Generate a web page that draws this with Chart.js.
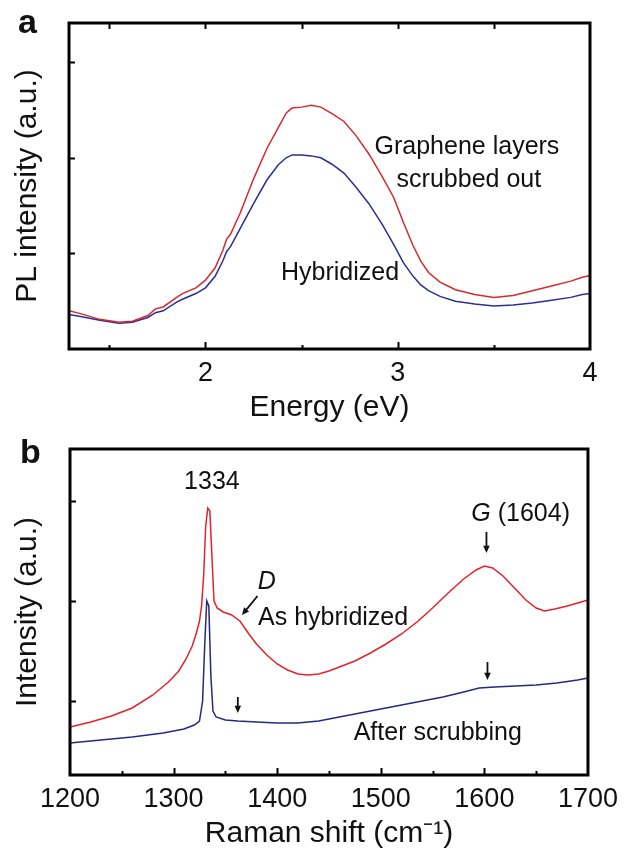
<!DOCTYPE html>
<html>
<head>
<meta charset="utf-8">
<script src="https://cdn.jsdelivr.net/npm/chart.js@4.4.1/dist/chart.umd.min.js"></script>
<style>
  body { margin: 0; background: #fff; }
  #wrap { position: relative; width: 626px; height: 851px; font-family: "Liberation Sans", Arial, sans-serif; }
  canvas { position: absolute; left: 0; }
  .tag { position: absolute; font-size: 34px; font-weight: bold; line-height: 1; color: #111; }
</style>
</head>
<body>
<div id="wrap">
  <canvas id="plA" width="626" height="423" style="top:0"></canvas>
  <canvas id="plB" width="626" height="431" style="top:420px"></canvas>
  <div class="tag" style="left:18px; top:4px">a</div>
  <div class="tag" style="left:20px; top:434px">b</div>
</div>
<script>
// panel a: PL spectra
var energy = [1.29, 1.35, 1.45, 1.55, 1.62, 1.70, 1.74, 1.78, 1.85, 1.88, 1.95, 2.00, 2.05, 2.09, 2.11, 2.13,
              2.18, 2.25, 2.32, 2.38, 2.42, 2.45, 2.50, 2.55, 2.60, 2.66, 2.72, 2.78, 2.85, 2.92, 2.98, 3.03,
              3.08, 3.12, 3.16, 3.22, 3.30, 3.40, 3.50, 3.60, 3.70, 3.80, 3.90, 3.96, 4.00];
var plScrubbed = [0.40, 0.37, 0.31, 0.28, 0.29, 0.35, 0.42, 0.44, 0.54, 0.58, 0.64, 0.72, 0.85, 1.03, 1.15, 1.20,
                  1.42, 1.78, 2.10, 2.32, 2.47, 2.52, 2.53, 2.55, 2.53, 2.46, 2.38, 2.24, 2.04, 1.80, 1.58, 1.32,
                  1.08, 0.92, 0.80, 0.70, 0.62, 0.57, 0.54, 0.56, 0.61, 0.66, 0.71, 0.75, 0.77];
var plHybrid = [0.36, 0.34, 0.30, 0.27, 0.28, 0.33, 0.38, 0.40, 0.49, 0.52, 0.58, 0.64, 0.76, 0.92, 1.02, 1.07,
                1.26, 1.52, 1.77, 1.93, 2.00, 2.03, 2.03, 2.02, 2.00, 1.93, 1.84, 1.70, 1.52, 1.30, 1.09, 0.90,
                0.76, 0.67, 0.61, 0.55, 0.50, 0.47, 0.45, 0.46, 0.48, 0.51, 0.54, 0.57, 0.58];
var energyTicks = [1.5, 2, 2.5, 3, 3.5, 4];

// panel b: Raman spectra
var shiftHyb = [1200, 1220, 1240, 1260, 1280, 1295, 1305, 1312, 1318, 1322, 1325, 1327, 1329, 1331, 1333, 1335,
                1337, 1339, 1342, 1348, 1356, 1364, 1372, 1380, 1390, 1400, 1410, 1420, 1430, 1440, 1450, 1460,
                1475, 1490, 1505, 1520, 1535, 1550, 1565, 1580, 1592, 1600, 1608, 1618, 1630, 1640, 1650, 1658,
                1668, 1680, 1690, 1700];
var ramanHyb = [0.74, 0.79, 0.85, 0.93, 1.06, 1.19, 1.30, 1.42, 1.55, 1.68, 1.80, 1.95, 2.25, 2.75, 2.93, 2.90,
                2.45, 2.00, 1.93, 1.89, 1.86, 1.80, 1.68, 1.57, 1.46, 1.37, 1.31, 1.27, 1.26, 1.27, 1.30, 1.34,
                1.40, 1.48, 1.57, 1.67, 1.79, 1.93, 2.08, 2.22, 2.31, 2.35, 2.33, 2.25, 2.12, 2.01, 1.93, 1.90,
                1.92, 1.95, 1.98, 2.01];
var shiftScrub = [1200, 1230, 1260, 1290, 1310, 1320, 1325, 1328, 1330, 1332, 1334, 1336, 1338, 1341, 1350, 1362,
                  1380, 1400, 1420, 1440, 1460, 1480, 1500, 1520, 1540, 1560, 1580, 1595, 1610, 1630, 1650, 1670,
                  1690, 1700];
var ramanScrub = [0.58, 0.61, 0.64, 0.68, 0.72, 0.76, 0.80, 1.00, 1.55, 2.00, 1.95, 1.25, 0.90, 0.84, 0.81, 0.80,
                  0.79, 0.78, 0.78, 0.80, 0.84, 0.88, 0.92, 0.96, 1.00, 1.04, 1.09, 1.13, 1.14, 1.15, 1.16, 1.18,
                  1.21, 1.23];
var shiftTicks = [1250, 1300, 1350, 1400, 1450, 1500, 1550, 1600, 1650, 1700];
var intensityTicks = [1, 2, 3];

var FONT = '"Liberation Sans", Arial, sans-serif';

function pairs(xs, ys) {
    return xs.map(function (v, i) { return { x: v, y: ys[i] }; });
}

// box frame + inward tick marks
var frameTicks = {
    id: 'frameTicks',
    afterDraw: function (chart, args, opts) {
        var ctx = chart.ctx, a = chart.chartArea;
        var xs = chart.scales.x, ys = chart.scales.y;
        ctx.save();
        ctx.strokeStyle = '#000';
        ctx.lineWidth = 2;
        ctx.beginPath();
        xs.ticks.forEach(function (t) {
            if (t.value <= xs.min || t.value >= xs.max) return;
            var px = Math.round(xs.getPixelForValue(t.value)) + 0.5;
            var len = (t.value % opts.majorEvery === 0) ? 7 : 4;
            ctx.moveTo(px, a.bottom); ctx.lineTo(px, a.bottom - len);
            if (opts.topTicks) { ctx.moveTo(px, a.top); ctx.lineTo(px, a.top + 6); }
        });
        ys.ticks.forEach(function (t) {
            var py = Math.round(ys.getPixelForValue(t.value)) + 0.5;
            ctx.moveTo(a.left, py); ctx.lineTo(a.left + 6, py);
        });
        ctx.stroke();
        ctx.lineWidth = 3;
        ctx.strokeRect(a.left, a.top, a.right - a.left, a.bottom - a.top);
        ctx.restore();
    }
};

// text labels and small arrows placed in data coordinates
var notes = {
    id: 'notes',
    afterDatasetsDraw: function (chart, args, opts) {
        var ctx = chart.ctx, xs = chart.scales.x, ys = chart.scales.y;
        ctx.save();
        ctx.fillStyle = '#111';
        ctx.strokeStyle = '#111';
        ctx.textBaseline = 'middle';
        (opts.texts || []).forEach(function (t) {
            var runs = t.runs || [{ text: t.text, italic: t.italic }];
            var px = xs.getPixelForValue(t.x), py = ys.getPixelForValue(t.y);
            var total = 0;
            runs.forEach(function (r) {
                ctx.font = (r.italic ? 'italic ' : '') + t.size + 'px ' + FONT;
                r.w = ctx.measureText(r.text).width;
                total += r.w;
            });
            var cx = px - total / 2;
            ctx.textAlign = 'left';
            runs.forEach(function (r) {
                ctx.font = (r.italic ? 'italic ' : '') + t.size + 'px ' + FONT;
                ctx.fillText(r.text, cx, py);
                cx += r.w;
            });
        });
        ctx.lineWidth = 1.8;
        (opts.arrows || []).forEach(function (ar) {
            var x1 = xs.getPixelForValue(ar.from[0]), y1 = ys.getPixelForValue(ar.from[1]);
            var x2 = xs.getPixelForValue(ar.to[0]), y2 = ys.getPixelForValue(ar.to[1]);
            var ang = Math.atan2(y2 - y1, x2 - x1), h = 8;
            ctx.beginPath();
            ctx.moveTo(x1, y1); ctx.lineTo(x2 - Math.cos(ang) * 4, y2 - Math.sin(ang) * 4);
            ctx.stroke();
            ctx.beginPath();
            ctx.moveTo(x2, y2);
            ctx.lineTo(x2 - h * Math.cos(ang - 0.42), y2 - h * Math.sin(ang - 0.42));
            ctx.lineTo(x2 - h * Math.cos(ang + 0.42), y2 - h * Math.sin(ang + 0.42));
            ctx.closePath();
            ctx.fill();
        });
        ctx.restore();
    }
};

function axisOpts(min, max, tickVals, showLabel, titleText, fitSize, isX) {
    return {
        type: 'linear',
        min: min,
        max: max,
        afterBuildTicks: function (s) { s.ticks = tickVals.map(function (v) { return { value: v }; }); },
        afterFit: function (s) { if (isX) s.height = fitSize; else s.width = fitSize; },
        grid: { display: false, drawTicks: false },
        border: { display: false },
        ticks: {
            display: showLabel,
            padding: 8,
            color: '#111',
            font: { family: FONT, size: 27 },
            maxRotation: 0,
            autoSkip: false,
            callback: function (v) { return v; }
        },
        title: {
            display: true,
            text: titleText,
            color: '#111',
            font: { family: FONT, size: 30, lineHeight: 1 },
            padding: isX ? { top: 0, bottom: 0 } : { top: 13, bottom: 0 }
        }
    };
}

var chartA = new Chart(document.getElementById('plA'), {
    type: 'line',
    data: {
        datasets: [
            { label: 'Graphene layers scrubbed out', data: pairs(energy, plScrubbed), borderColor: '#d42a2e', borderWidth: 1.5, pointRadius: 0 },
            { label: 'Hybridized', data: pairs(energy, plHybrid), borderColor: '#2b2f95', borderWidth: 1.5, pointRadius: 0 }
        ]
    },
    options: {
        responsive: false,
        animation: false,
        layout: { padding: { top: 23, right: 36, left: 0, bottom: 0 } },
        scales: {
            x: (function () {
                var o = axisOpts(1.29, 4, energyTicks, true, 'Energy (eV)', 74, true);
                o.ticks.callback = function (v) { return v % 1 === 0 ? v : ''; };
                return o;
            })(),
            y: axisOpts(0, 3.41, intensityTicks, false, 'PL intensity (a.u.)', 69, false)
        },
        plugins: {
            legend: { display: false },
            tooltip: { enabled: false },
            frameTicks: { topTicks: true, majorEvery: 1 },
            notes: {
                texts: [
                    { text: 'Graphene layers', x: 3.36, y: 2.11, size: 25 },
                    { text: 'scrubbed out', x: 3.37, y: 1.77, size: 25 },
                    { text: 'Hybridized', x: 2.70, y: 0.79, size: 25 }
                ]
            }
        }
    },
    plugins: [frameTicks, notes]
});

var chartB = new Chart(document.getElementById('plB'), {
    type: 'line',
    data: {
        datasets: [
            { label: 'As hybridized', data: pairs(shiftHyb, ramanHyb), borderColor: '#e3232a', borderWidth: 1.5, pointRadius: 0 },
            { label: 'After scrubbing', data: pairs(shiftScrub, ramanScrub), borderColor: '#232a80', borderWidth: 1.5, pointRadius: 0 }
        ]
    },
    options: {
        responsive: false,
        animation: false,
        layout: { padding: { top: 29, right: 35, left: 0, bottom: 2 } },
        scales: {
            x: (function () {
                var o = axisOpts(1200, 1700, shiftTicks, true, 'Raman shift (cm\u207B\u00B9)', 74, true);
                o.afterBuildTicks = function (s) { s.ticks = [1200].concat(shiftTicks).map(function (v) { return { value: v }; }); };
                o.ticks.callback = function (v) { return v % 100 === 0 ? v : ''; };
                return o;
            })(),
            y: axisOpts(0.26, 3.52, intensityTicks, false, 'Intensity (a.u.)', 70, false)
        },
        plugins: {
            legend: { display: false },
            tooltip: { enabled: false },
            frameTicks: { topTicks: false, majorEvery: 100 },
            notes: {
                texts: [
                    { text: '1334', x: 1337, y: 3.19, size: 25 },
                    { text: 'D', italic: true, x: 1390, y: 2.19, size: 25 },
                    { text: 'As hybridized', x: 1454, y: 1.83, size: 25 },
                    { runs: [{ text: 'G', italic: true }, { text: ' (1604)' }], x: 1635, y: 2.87, size: 25 },
                    { text: 'After scrubbing', x: 1555, y: 0.68, size: 25 }
                ],
                arrows: [
                    { from: [1381, 2.05], to: [1366, 1.86] },
                    { from: [1602, 2.69], to: [1602, 2.48] },
                    { from: [1362, 1.04], to: [1362, 0.88] },
                    { from: [1603, 1.39], to: [1603, 1.21] }
                ]
            }
        }
    },
    plugins: [frameTicks, notes]
});
</script>
</body>
</html>
